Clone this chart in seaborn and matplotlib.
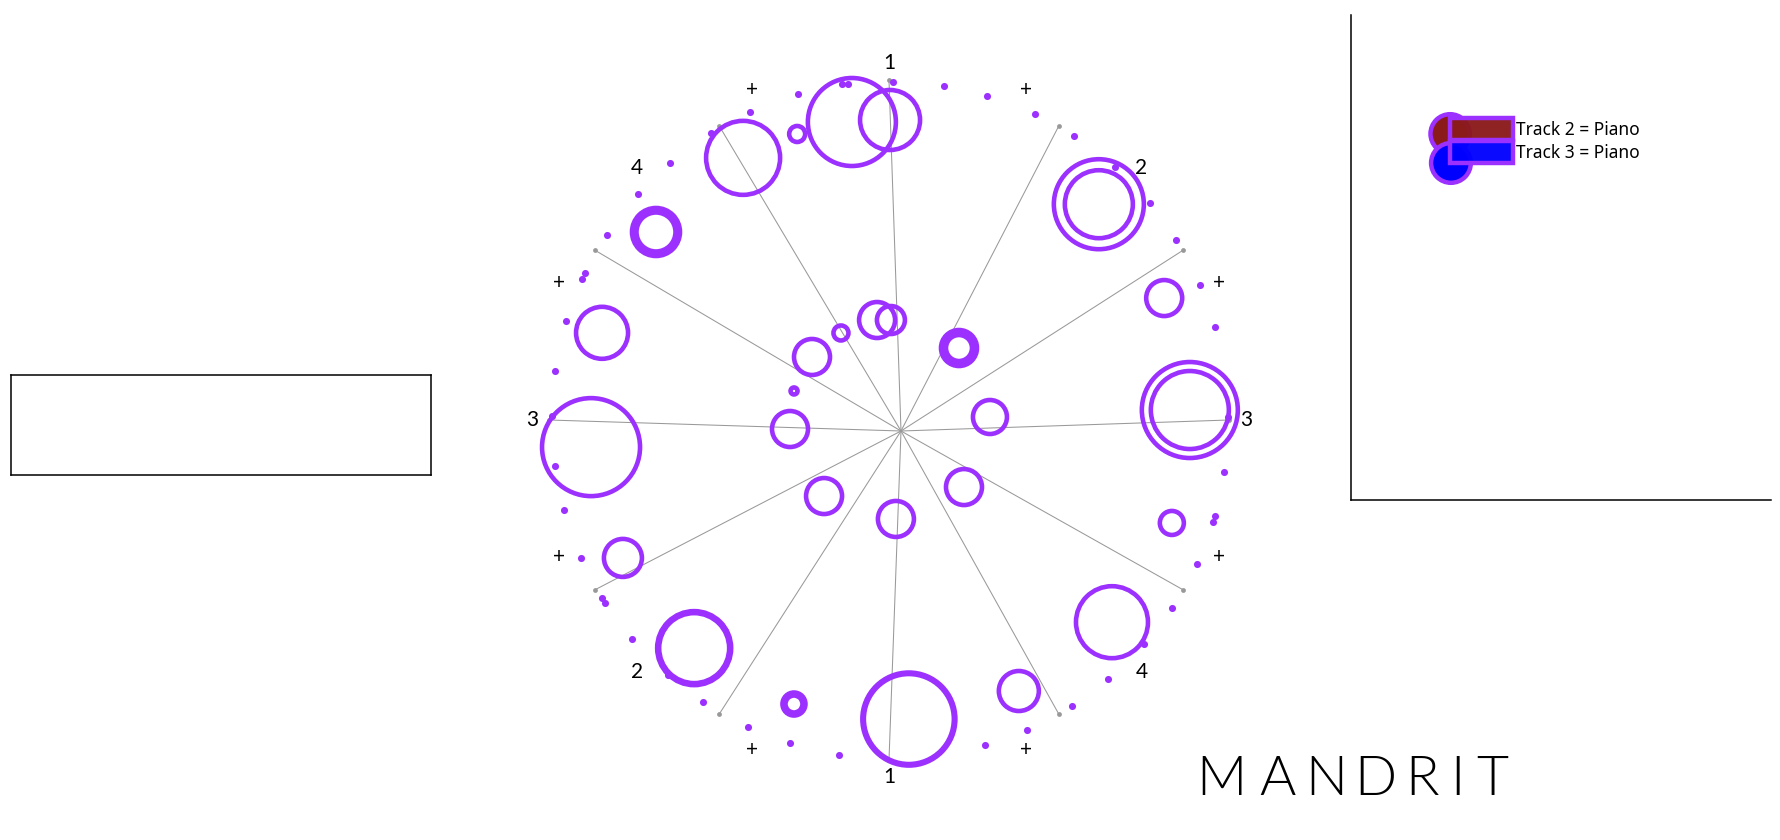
import numpy as np
import matplotlib
matplotlib.use("Agg")
import matplotlib.pyplot as plt
from matplotlib.patches import Circle, Patch
from matplotlib.collections import PatchCollection
import seaborn as sns

# ------------------------------------------------------------------
# data (angle clockwise from top in degrees, radial position and ring
# radius in wheel pixels where the spoke length is 340)
# ------------------------------------------------------------------
WHEEL_R = 340.0

outer_angle = [0.2, 44.2, 44.2, 66.1, 88.1, 88.1, 110.0, 132.2, 154.4, 176.2, 176.2,
               198.5, 198.5, 220.5, 220.5, 242.6, 264.8, 286.9, 308.9, 308.9, 308.9,
               330.9, 342.2, 352.9]
outer_dist = [300, 301, 301, 301, 301, 301, 301, 301, 300.5, 299.7, 299.7,
              299.5, 299.5, 300, 300, 299.7, 299.2, 299.9, 299.4, 299.4, 299.4,
              300, 300.4, 300.3]
outer_size = [30, 45, 34, 18, 48, 39, 12, 36, 20, 45, 46.5,
              8.5, 11.5, 35, 37, 19, 49, 26, 19.5, 22, 24,
              37, 8, 44]

inner_angle = [1.1, 353.2, 331.1, 309.3, 287.0, 264.8, 220.5, 176.0, 131.8, 88.3, 44.2, 44.2, 44.2]
inner_dist = [100, 100.7, 99.4, 99.5, 99.3, 99.4, 100, 99.2, 100.6, 101, 100.4, 100.4, 100.4]
inner_size = [14, 18, 7.5, 18, 3.5, 18, 18, 18, 18, 17, 13, 15.5, 18]

dot_angle = [0.7, 9.4, 16.8, 25.5, 33.1, 41.8, 50.3, 57.9, 66.5, 74.1, 89.5, 98.8,
             106.4, 107.5, 115.1, 123.6, 131.3, 139.8, 147.4, 156.0, 163.5, 188.5,
             197.0, 204.7, 213.4, 220.9, 229.6, 237.2, 238.2, 245.9, 254.5, 262.2,
             270.7, 278.3, 287.0, 294.7, 295.8, 303.3, 312.0, 319.6, 328.2, 335.7,
             344.4, 352.0, 353.0]
dot_dist = [338, 338.5, 338.5, 339, 339, 339.2, 339.4, 338.8, 339, 339, 339, 339,
            339.8, 339.7, 340, 339.8, 339.4, 339.2, 339.5, 339.3, 338.9, 338.7,
            337.8, 337.8, 337.8, 337.4, 337.6, 337.9, 337.7, 337.5, 337.2, 337.2,
            337, 337.6, 337.8, 337.8, 337.7, 337.3, 337.8, 337.6, 337.7, 337.9,
            338.5, 339.3, 338.5]

spoke_angle = [0, 30, 60, 90, 120, 150, 180, 210, 240, 270, 300, 330]
beat_labels = ["1", "+", "2", "+", "3", "+", "4", "+", "1", "+", "2", "+", "3", "+", "4", "+"]
label_dist = 357

tracks = ["Track 2 = Piano", "Track 3 = Piano"]
track_colors = ["#8B1A1A", "#0000FF"]

title_letters = list("MANDRIT")
title_x = [1221, 1277, 1326, 1375, 1422, 1457, 1492]   # letter centres, px

PURPLE = "#9B30FF"
GREY = "#999999"
FONT = ["Lato", "DejaVu Sans"]

W, H = 1780, 840


def fig_rect(x0, y0, x1, y1):
    return [x0 / W, 1 - y1 / H, (x1 - x0) / W, (y1 - y0) / H]


def polar_xy(angle, dist):
    a = np.deg2rad(np.asarray(angle, dtype=float))
    d = np.asarray(dist, dtype=float) / WHEEL_R
    return d * np.sin(a), d * np.cos(a)


sns.set_style("white")
plt.rcParams["font.family"] = FONT
plt.rcParams["text.color"] = "black"

fig = plt.figure(figsize=(W / 100, H / 100), dpi=100)

# ---- empty box on the left ----
ax_l = fig.add_axes(fig_rect(11, 375, 431, 475))
ax_l.set_xticks([]); ax_l.set_yticks([])
for s in ax_l.spines.values():
    s.set_color("black"); s.set_linewidth(1.1)

# ---- legend panel on the right ----
ax_r = fig.add_axes(fig_rect(1351, 15, 1771, 500))
ax_r.set_xlim(0, 1); ax_r.set_ylim(0, 1)
ax_r.set_xticks([]); ax_r.set_yticks([])
sns.despine(ax=ax_r)
for s in ("left", "bottom"):
    ax_r.spines[s].set_color("black"); ax_r.spines[s].set_linewidth(1.1)

ax_r.scatter([0.236, 0.238], [0.755, 0.695], s=[800, 820], c=track_colors,
             edgecolors=PURPLE, linewidths=3.2, zorder=2)
handles = [Patch(facecolor=matplotlib.colors.to_rgba(c, 0.96), edgecolor=PURPLE, linewidth=3.2)
           for c in track_colors]
leg = ax_r.legend(handles, tracks, loc="upper left", bbox_to_anchor=(0.236, 0.787),
                  frameon=False, prop={"family": ["Noto Sans", "DejaVu Sans"], "size": 12.5},
                  handlelength=3.6, handleheight=1.55, labelspacing=0.08,
                  handletextpad=0.2, borderpad=0, borderaxespad=0)
for t in leg.get_texts():
    t.set_color("black")

# ---- wheel ----
ax = fig.add_axes(fig_rect(449, 10, 1329, 830))
ax.set_xlim(-440 / WHEEL_R, 440 / WHEEL_R)
ax.set_ylim(-410 / WHEEL_R, 410 / WHEEL_R)
ax.axis("off")

hub = (12 / WHEEL_R, -11 / WHEEL_R)
sx, sy = polar_xy(spoke_angle, [WHEEL_R] * len(spoke_angle))
for x, y in zip(sx, sy):
    ax.plot([hub[0], x], [hub[1], y], color=GREY, lw=0.75, zorder=1)
ax.scatter(sx, sy, s=12, color=GREY, linewidths=0, zorder=1)

for ang, dist, size in ((outer_angle, outer_dist, outer_size),
                        (inner_angle, inner_dist, inner_size)):
    cx, cy = polar_xy(ang, dist)
    rings = [Circle((x, y), r / WHEEL_R) for x, y, r in zip(cx, cy, size)]
    ax.add_collection(PatchCollection(rings, facecolor="none", edgecolor=PURPLE,
                                      linewidth=3.3, zorder=3))

dx, dy = polar_xy(dot_angle, dot_dist)
sns.scatterplot(x=dx, y=dy, ax=ax, color=PURPLE, s=26, linewidth=0, legend=False, zorder=4)

lab_ang = np.arange(len(beat_labels)) * 360 / len(beat_labels)
lx, ly = polar_xy(lab_ang, [label_dist] * len(beat_labels))
for x, y, t in zip(lx, ly, beat_labels):
    ax.text(x, y, t, ha="center", va="center", fontsize=15, color="black")

for x, ch in zip(title_x, title_letters):
    fig.text(x / W, 1 - 780 / H, ch, ha="center", va="center",
             fontsize=40, fontweight=300, color="black")

fig.savefig("out.png", dpi=100)
